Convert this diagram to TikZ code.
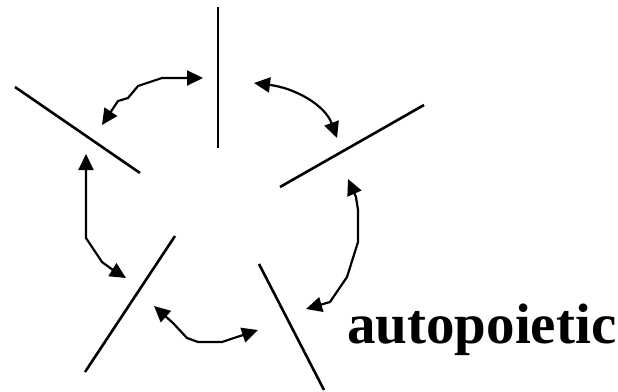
\documentclass[tikz,border=0pt]{standalone}
\usepackage{fontspec}
\setmainfont{Liberation Serif}
\usetikzlibrary{arrows.meta}
\begin{document}
\begin{tikzpicture}[x=1pt,y=-1pt,
  bar/.style={line width=2.6pt},
  link/.style={line width=2.2pt,{Triangle[length=16pt,width=15pt]}-{Triangle[length=16pt,width=15pt]}, line join=round},
  label/.style={font=\fontsize{57}{64}\selectfont\bfseries, inner sep=0pt, anchor=base west}]
\useasboundingbox (0,0) rectangle (618,391);
% the five bars
\coordinate (t1) at (218,7);   \coordinate (t2) at (218,148);
\coordinate (l1) at (15,87);   \coordinate (l2) at (140,173);
\coordinate (r1) at (424,105); \coordinate (r2) at (280,187);
\coordinate (bl1) at (175,236); \coordinate (bl2) at (85,372);
\coordinate (br1) at (259,264); \coordinate (br2) at (324,390);
\draw[bar] (t1) -- (t2);
\draw[bar] (l1) -- (l2);
\draw[bar] (r1) -- (r2);
\draw[bar] (bl1) -- (bl2);
\draw[bar] (br1) -- (br2);
% arrow ends
\coordinate (a1) at (102,125); \coordinate (a2) at (203,78);
\coordinate (b1) at (254,83);  \coordinate (b2) at (337,138);
\coordinate (c1) at (348,179); \coordinate (c2) at (306,309);
\coordinate (d1) at (154,306); \coordinate (d2) at (258,330);
\coordinate (e1) at (86,154);  \coordinate (e2) at (126,278);
\draw[link] (a1) -- (118,101) -- (128,98) -- (138,86) -- (162,78) -- (a2);
\draw[link] (b1) .. controls (295,88) and (325,105) .. (b2);
\draw[link] (c1) -- (356,197) -- (358,210) -- (358,242) -- (347,277) -- (330,302) -- (c2);
\draw[link] (d1) -- (173,323) -- (187,338) -- (198,342) -- (222,342) -- (243,335) -- (d2);
\draw[link] (e1) -- (86,238) -- (102,262) -- (113,270) -- (e2);
\node[label] (txt) at (347,343) {autopoietic};
\end{tikzpicture}
\end{document}
